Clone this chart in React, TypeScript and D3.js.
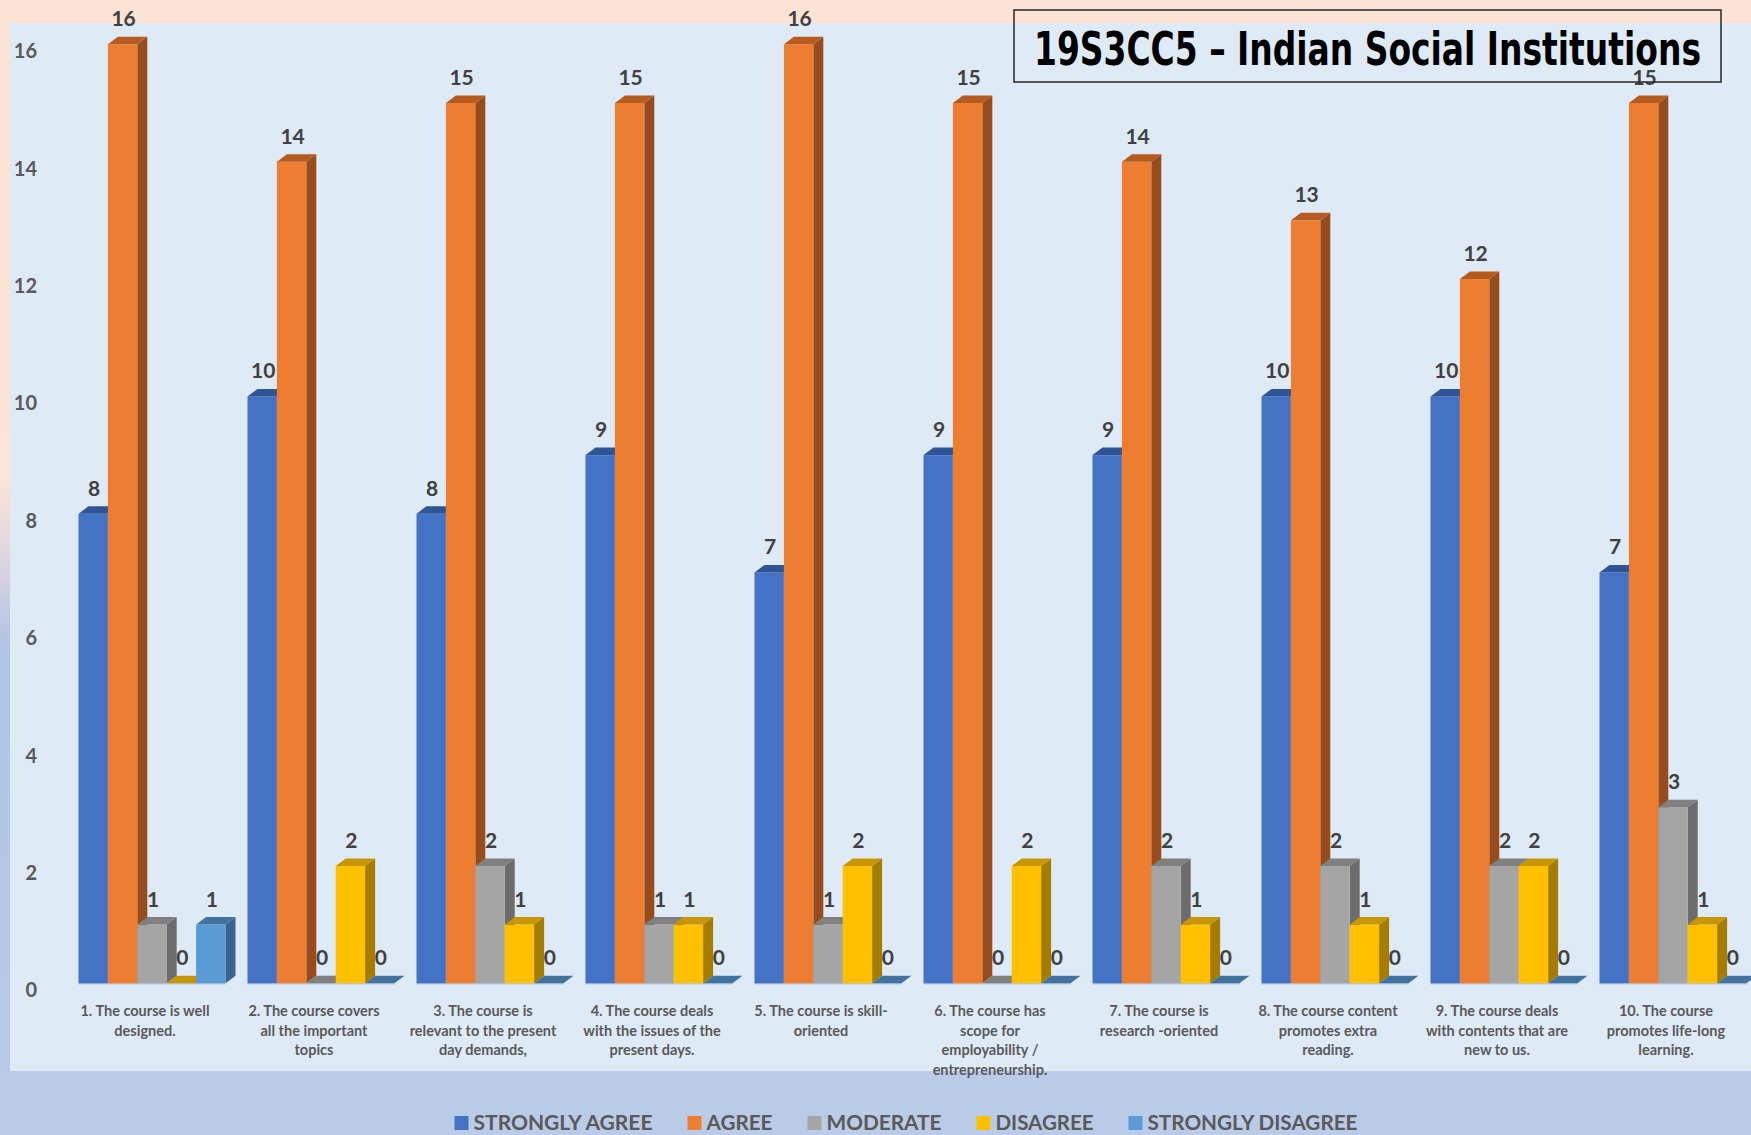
import React from "react";
import * as d3 from "d3";

const categoryLines: string[][] = [
  ["1. The course is well", "designed."],
  ["2. The course covers", "all the important", "topics"],
  ["3. The course is", "relevant to the present", "day demands,"],
  ["4. The course deals", "with the issues of the", "present days."],
  ["5. The course is skill-", "oriented"],
  ["6. The course has", "scope for", "employability /", "entrepreneurship."],
  ["7. The course is", "research -oriented"],
  ["8. The course content", "promotes extra", "reading."],
  ["9. The course deals", "with contents that are", "new to us."],
  ["10. The course", "promotes life-long", "learning."],
];

const seriesNames = ["STRONGLY AGREE", "AGREE", "MODERATE", "DISAGREE", "STRONGLY DISAGREE"];
const stronglyAgree = [8, 10, 8, 9, 7, 9, 9, 10, 10, 7];
const agree = [16, 14, 15, 15, 16, 15, 14, 13, 12, 15];
const moderate = [1, 0, 2, 1, 1, 0, 2, 2, 2, 3];
const disagree = [0, 2, 1, 1, 2, 2, 1, 1, 2, 1];
const stronglyDisagree = [1, 0, 0, 0, 0, 0, 0, 0, 0, 0];
const seriesValues = [stronglyAgree, agree, moderate, disagree, stronglyDisagree];

const yTicks = [0, 2, 4, 6, 8, 10, 12, 14, 16];
const titleText = "19S3CC5 – Indian Social Institutions";

// colours: front, top, side
const palette = [
  { front: "#4472C4", top: "#2f5597", side: "#2c4f8c" },
  { front: "#ED7D31", top: "#b65b1f", side: "#984b1d" },
  { front: "#A5A5A5", top: "#808080", side: "#6c6c6c" },
  { front: "#FFC000", top: "#c89600", side: "#a47c00" },
  { front: "#5B9BD5", top: "#42739f", side: "#386490" },
];

// legend text widths (layout)
const legendWidths = [179, 66, 115, 98, 210];

const W = 1751;
const H = 1135;
const FONT = "Lato, 'Open Sans', 'DejaVu Sans', sans-serif";

export default function App() {
  const n = categoryLines.length;
  const ids = d3.range(n).map(String);
  const x0 = d3
    .scaleBand<string>()
    .domain(ids)
    .range([67.5, 67.5 + 169 * n])
    .paddingInner(22 / 169)
    .paddingOuter(11 / 169);
  const x1 = d3.scaleBand<string>().domain(seriesNames).range([0, x0.bandwidth()]);
  const y = d3.scaleLinear().domain([0, 16]).range([983.3, 44.3]);
  const dx = 10;
  const dy = 7.5;
  const bw = x1.bandwidth();

  const bars: React.ReactNode[] = [];
  const labels: React.ReactNode[] = [];
  ids.forEach((id, gi) => {
    const gx = x0(id)!;
    bars.push(
      <line
        key={`floor-${gi}`}
        x1={gx}
        x2={gx + x0.bandwidth()}
        y1={y(0) + 0.5}
        y2={y(0) + 0.5}
        stroke="#b3c8e6"
        strokeWidth={1.5}
      />
    );
    seriesNames.forEach((s, si) => {
      const v = seriesValues[si][gi];
      const bx = gx + x1(s)!;
      const top = y(v);
      const base = y(0);
      const c = palette[si];
      const sidePath = d3.path();
      sidePath.moveTo(bx + bw, top);
      sidePath.lineTo(bx + bw + dx, top - dy);
      sidePath.lineTo(bx + bw + dx, base - dy);
      sidePath.lineTo(bx + bw, base);
      sidePath.closePath();
      const topPath = d3.path();
      topPath.moveTo(bx, top);
      topPath.lineTo(bx + dx, top - dy);
      topPath.lineTo(bx + bw + dx, top - dy);
      topPath.lineTo(bx + bw, top);
      topPath.closePath();
      bars.push(
        <g key={`b-${gi}-${si}`}>
          {v > 0 && <path d={sidePath.toString()} fill={c.side} />}
          {v > 0 && <rect x={bx} y={top} width={bw} height={base - top} fill={c.front} />}
          <path d={topPath.toString()} fill={c.top} />
        </g>
      );
      labels.push(
        <text
          key={`l-${gi}-${si}`}
          x={bx + bw / 2 + 1}
          y={top - 18}
          textAnchor="middle"
          fontFamily={FONT}
          fontWeight={700}
          fontSize={21}
          fill="#404040"
        >
          {v}
        </text>
      );
    });
  });

  let lx = 454.5;
  const legendItems = seriesNames.map((s, i) => {
    const sx = lx;
    const tx = sx + 19;
    lx = tx + legendWidths[i] + 35;
    return (
      <g key={`leg-${i}`}>
        <rect x={sx} y={1116} width={14} height={14} fill={palette[i].front} />
        <text
          x={tx}
          y={1130}
          fontFamily={FONT}
          fontWeight={700}
          fontSize={21}
          fill="#595959"
          textLength={legendWidths[i]}
          lengthAdjust="spacingAndGlyphs"
        >
          {s}
        </text>
      </g>
    );
  });

  return (
    <svg
      width={W}
      height={H}
      viewBox={`0 0 ${W} ${H}`}
      style={{ position: "absolute", left: 0, top: 0, display: "block" }}
    >
      <defs>
        <linearGradient id="bg" x1="0" y1="0" x2="0" y2="1">
          <stop offset="0" stopColor="#fde3d3" />
          <stop offset="0.42" stopColor="#fce4d6" />
          <stop offset="0.5" stopColor="#d9d3e0" />
          <stop offset="0.57" stopColor="#b0c4e6" />
          <stop offset="1" stopColor="#b9cbe7" />
        </linearGradient>
      </defs>
      <rect x={0} y={0} width={W} height={H} fill="url(#bg)" />
      <rect x={0} y={1071} width={W} height={H - 1071} fill="#b9cbe7" />
      <rect x={10} y={23} width={W - 10} height={1048} fill="#deeaf6" />

      {yTicks.map((t) => (
        <text
          key={`yt-${t}`}
          x={37}
          y={y(t) + 6}
          textAnchor="end"
          dominantBaseline="central"
          fontFamily={FONT}
          fontWeight={700}
          fontSize={20}
          fill="#595959"
        >
          {t}
        </text>
      ))}

      {bars}
      {labels}

      {ids.map((id, gi) => (
        <text
          key={`xl-${gi}`}
          textAnchor="middle"
          fontFamily={FONT}
          fontWeight={700}
          fontSize={14.5}
          fill="#595959"
        >
          {categoryLines[gi].map((ln, li) => (
            <tspan key={li} x={x0(id)! + 66.5} y={1016 + li * 19.5}>
              {ln}
            </tspan>
          ))}
        </text>
      ))}

      <rect x={1014} y={10} width={707} height={72} fill="none" stroke="#262626" strokeWidth={1.5} />
      <text
        x={1034}
        y={65}
        fontFamily="'Liberation Sans Narrow', 'DejaVu Sans Condensed', 'Arial Narrow', sans-serif"
        fontWeight={700}
        fontSize={46}
        fill="#000"
        textLength={667}
        lengthAdjust="spacingAndGlyphs"
      >
        {titleText}
      </text>

      {legendItems}
    </svg>
  );
}
